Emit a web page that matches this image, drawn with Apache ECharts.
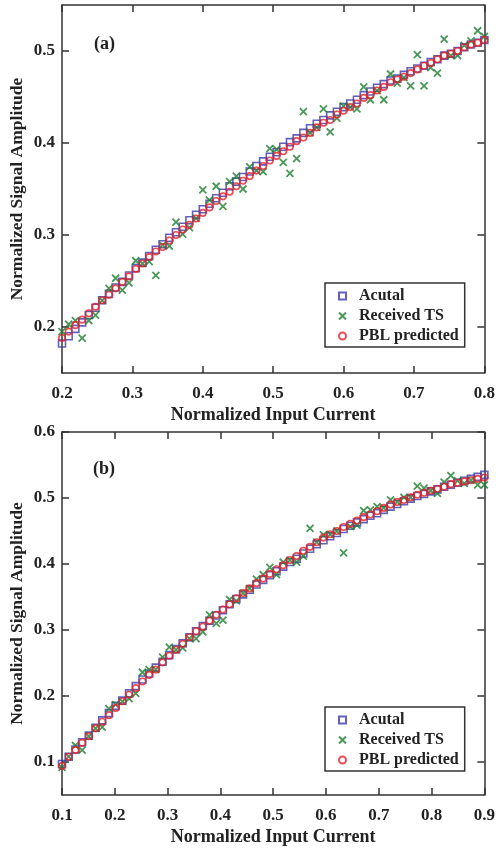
<!DOCTYPE html>
<html>
<head>
<meta charset="utf-8">
<script src="https://cdn.jsdelivr.net/npm/echarts@6/dist/echarts.min.js"></script>
<style>
  html, body { margin: 0; padding: 0; background: #fff; }
  #chart { width: 498px; height: 850px; }
</style>
</head>
<body>
<div id="chart"></div>
<script>
// ---- data, panel (a) ----
const inputA = [0.2000, 0.2095, 0.2190, 0.2286, 0.2381, 0.2476, 0.2571, 0.2667, 0.2762, 0.2857,
  0.2952, 0.3048, 0.3143, 0.3238, 0.3333, 0.3429, 0.3524, 0.3619, 0.3714, 0.3810,
  0.3905, 0.4000, 0.4095, 0.4190, 0.4286, 0.4381, 0.4476, 0.4571, 0.4667, 0.4762,
  0.4857, 0.4952, 0.5048, 0.5143, 0.5238, 0.5333, 0.5429, 0.5524, 0.5619, 0.5714,
  0.5810, 0.5905, 0.6000, 0.6095, 0.6190, 0.6286, 0.6381, 0.6476, 0.6571, 0.6667,
  0.6762, 0.6857, 0.6952, 0.7048, 0.7143, 0.7238, 0.7333, 0.7429, 0.7524, 0.7619,
  0.7714, 0.7810, 0.7905, 0.8000]
const actualA = [0.182, 0.190, 0.198, 0.205, 0.213, 0.221, 0.229, 0.236, 0.243, 0.249,
  0.256, 0.264, 0.270, 0.277, 0.284, 0.290, 0.297, 0.303, 0.309, 0.316,
  0.322, 0.328, 0.334, 0.340, 0.346, 0.353, 0.358, 0.363, 0.369, 0.375,
  0.380, 0.385, 0.390, 0.396, 0.401, 0.405, 0.411, 0.416, 0.421, 0.425,
  0.430, 0.434, 0.439, 0.443, 0.447, 0.452, 0.456, 0.460, 0.464, 0.468,
  0.470, 0.474, 0.478, 0.481, 0.484, 0.488, 0.491, 0.495, 0.497, 0.500,
  0.504, 0.507, 0.509, 0.512]
const receivedA = [0.195, 0.203, 0.207, 0.188, 0.207, 0.213, 0.229, 0.242, 0.253, 0.240,
  0.248, 0.272, 0.269, 0.271, 0.256, 0.289, 0.288, 0.314, 0.301, 0.308,
  0.318, 0.349, 0.338, 0.353, 0.331, 0.358, 0.364, 0.350, 0.374, 0.370,
  0.369, 0.394, 0.393, 0.379, 0.367, 0.383, 0.434, 0.411, 0.417, 0.437,
  0.412, 0.427, 0.440, 0.439, 0.437, 0.461, 0.447, 0.457, 0.447, 0.475,
  0.465, 0.471, 0.462, 0.496, 0.462, 0.482, 0.476, 0.513, 0.495, 0.495,
  0.506, 0.511, 0.522, 0.516]
const predictedA = [0.188, 0.195, 0.202, 0.208, 0.215, 0.222, 0.229, 0.235, 0.242, 0.249,
  0.255, 0.263, 0.269, 0.276, 0.282, 0.287, 0.294, 0.300, 0.306, 0.311,
  0.318, 0.324, 0.330, 0.337, 0.342, 0.347, 0.353, 0.359, 0.364, 0.370,
  0.375, 0.381, 0.386, 0.391, 0.396, 0.402, 0.406, 0.411, 0.417, 0.422,
  0.425, 0.431, 0.435, 0.439, 0.443, 0.449, 0.452, 0.457, 0.461, 0.466,
  0.469, 0.472, 0.476, 0.480, 0.484, 0.487, 0.491, 0.495, 0.497, 0.500,
  0.504, 0.507, 0.509, 0.512]

// ---- data, panel (b) ----
const inputB = [0.1000, 0.1127, 0.1254, 0.1381, 0.1508, 0.1635, 0.1762, 0.1889, 0.2016, 0.2143,
  0.2270, 0.2397, 0.2524, 0.2651, 0.2778, 0.2905, 0.3032, 0.3159, 0.3286, 0.3413,
  0.3540, 0.3667, 0.3794, 0.3921, 0.4048, 0.4175, 0.4302, 0.4429, 0.4556, 0.4683,
  0.4810, 0.4937, 0.5063, 0.5190, 0.5317, 0.5444, 0.5571, 0.5698, 0.5825, 0.5952,
  0.6079, 0.6206, 0.6333, 0.6460, 0.6587, 0.6714, 0.6841, 0.6968, 0.7095, 0.7222,
  0.7349, 0.7476, 0.7603, 0.7730, 0.7857, 0.7984, 0.8111, 0.8238, 0.8365, 0.8492,
  0.8619, 0.8746, 0.8873, 0.9000]
const actualB = [0.097, 0.108, 0.119, 0.130, 0.140, 0.152, 0.163, 0.174, 0.185, 0.193,
  0.204, 0.215, 0.225, 0.234, 0.243, 0.252, 0.262, 0.271, 0.280, 0.289,
  0.298, 0.306, 0.314, 0.322, 0.330, 0.339, 0.347, 0.354, 0.361, 0.369,
  0.376, 0.383, 0.389, 0.396, 0.403, 0.408, 0.416, 0.423, 0.430, 0.436,
  0.442, 0.447, 0.453, 0.458, 0.463, 0.468, 0.473, 0.477, 0.482, 0.487,
  0.491, 0.495, 0.499, 0.503, 0.506, 0.510, 0.513, 0.517, 0.520, 0.523,
  0.526, 0.529, 0.532, 0.535]
const receivedB = [0.092, 0.108, 0.125, 0.118, 0.139, 0.151, 0.153, 0.181, 0.187, 0.192,
  0.196, 0.204, 0.236, 0.240, 0.240, 0.259, 0.274, 0.270, 0.273, 0.287,
  0.287, 0.297, 0.323, 0.310, 0.315, 0.346, 0.344, 0.356, 0.363, 0.377,
  0.384, 0.395, 0.384, 0.403, 0.406, 0.403, 0.412, 0.454, 0.433, 0.444,
  0.445, 0.450, 0.417, 0.457, 0.459, 0.481, 0.482, 0.487, 0.485, 0.497,
  0.494, 0.501, 0.501, 0.518, 0.515, 0.511, 0.507, 0.524, 0.534, 0.526,
  0.522, 0.527, 0.520, 0.520]
const predictedB = [0.094, 0.108, 0.118, 0.129, 0.139, 0.151, 0.161, 0.171, 0.182, 0.192,
  0.202, 0.212, 0.222, 0.232, 0.240, 0.251, 0.261, 0.270, 0.279, 0.289,
  0.298, 0.305, 0.314, 0.323, 0.331, 0.339, 0.348, 0.356, 0.363, 0.371,
  0.378, 0.385, 0.392, 0.398, 0.406, 0.412, 0.420, 0.426, 0.433, 0.440,
  0.445, 0.450, 0.456, 0.461, 0.466, 0.471, 0.475, 0.480, 0.485, 0.490,
  0.494, 0.497, 0.501, 0.505, 0.508, 0.511, 0.514, 0.517, 0.521, 0.523,
  0.525, 0.527, 0.529, 0.531]

// tick labels
const xTicksA = [0.2, 0.3, 0.4, 0.5, 0.6, 0.7, 0.8]
const yTicksA = [0.2, 0.3, 0.4, 0.5]
const xTicksB = [0.1, 0.2, 0.3, 0.4, 0.5, 0.6, 0.7, 0.8, 0.9]
const yTicksB = [0.1, 0.2, 0.3, 0.4, 0.5, 0.6]

const seriesNames = ['Acutal', 'Received TS', 'PBL predicted']

const FONT = '"Liberation Serif", "Times New Roman", serif'
const AXIS_COLOR = '#333'
const TEXT_COLOR = '#222'

const pairs = (xs, ys) => xs.map((x, i) => [x, ys[i]])
const fmt = (v) => v.toFixed(1)

const labelStyle = { fontFamily: FONT, fontWeight: 'bold', fontSize: 16, color: TEXT_COLOR }

// bottom/left axes carry labels, top/right ones only mirror the ticks (box look)
function makeX (grid, min, max, ticks, withLabel) {
  return {
    type: 'value',
    gridIndex: grid,
    position: withLabel ? 'bottom' : 'top',
    min: min,
    max: max,
    name: withLabel ? 'Normalized Input Current' : '',
    nameLocation: 'middle',
    nameGap: 33,
    nameMoveOverlap: false,
    nameTextStyle: { ...labelStyle, fontSize: 18 },
    splitLine: { show: false },
    axisLine: { show: true, onZero: false, lineStyle: { color: AXIS_COLOR, width: 1.5 } },
    axisTick: { show: true, inside: true, length: 7, customValues: ticks, lineStyle: { color: AXIS_COLOR, width: 1.5 } },
    axisLabel: { show: withLabel, margin: 12, customValues: ticks, formatter: fmt, ...labelStyle, fontSize: 17 }
  }
}

function makeY (grid, min, max, ticks, withLabel) {
  return {
    type: 'value',
    gridIndex: grid,
    position: withLabel ? 'left' : 'right',
    min: min,
    max: max,
    name: withLabel ? 'Normalized Signal Amplitude' : '',
    nameLocation: 'middle',
    nameGap: 36,
    nameMoveOverlap: false,
    nameTextStyle: { ...labelStyle, fontSize: 17.5 },
    splitLine: { show: false },
    axisLine: { show: true, onZero: false, lineStyle: { color: AXIS_COLOR, width: 1.5 } },
    axisTick: { show: true, inside: true, length: 7, customValues: ticks, lineStyle: { color: AXIS_COLOR, width: 1.5 } },
    axisLabel: { show: withLabel, margin: 7, customValues: ticks, formatter: fmt, ...labelStyle, fontSize: 17 }
  }
}

function makeSeries (axisIdx, xs, actual, received, predicted) {
  return [{
    name: seriesNames[0],
    type: 'scatter',
    xAxisIndex: axisIdx,
    yAxisIndex: axisIdx,
    symbol: 'rect',
    symbolSize: 7,
    itemStyle: { color: 'rgba(0,0,0,0)', borderColor: '#3b3ba6', borderWidth: 1.6 },
    data: pairs(xs, actual),
    z: 2
  }, {
    name: seriesNames[1],
    type: 'scatter',
    xAxisIndex: axisIdx,
    yAxisIndex: axisIdx,
    symbol: 'path://M0,0L10,10M10,0L0,10',
    symbolSize: 7,
    itemStyle: { color: 'rgba(0,0,0,0)', borderColor: '#1e7d2f', borderWidth: 1.8 },
    data: pairs(xs, received),
    z: 3
  }, {
    name: seriesNames[2],
    type: 'scatter',
    xAxisIndex: axisIdx,
    yAxisIndex: axisIdx,
    symbol: 'circle',
    symbolSize: 6.5,
    itemStyle: { color: 'rgba(0,0,0,0)', borderColor: '#e5202a', borderWidth: 1.6 },
    data: pairs(xs, predicted),
    z: 4
  }]
}

function makeLegend (top) {
  return {
    data: seriesNames,
    orient: 'vertical',
    left: 325,
    top: top,
    width: 139,
    padding: [5, 6, 3, 13],
    itemGap: 4,
    itemWidth: 7,
    itemHeight: 7,
    selectedMode: false,
    borderColor: AXIS_COLOR,
    borderWidth: 1.5,
    backgroundColor: '#fff',
    textStyle: { ...labelStyle, padding: [0, 0, 0, 8] }
  }
}

const chart = echarts.init(document.getElementById('chart'))
chart.setOption({
  animation: false,
  backgroundColor: '#fff',
  title: [
    { text: '(a)', left: 94, top: 35, padding: 0, textStyle: { ...labelStyle, fontSize: 18 } },
    { text: '(b)', left: 93, top: 460, padding: 0, textStyle: { ...labelStyle, fontSize: 18 } }
  ],
  grid: [
    { left: 61, right: 10, top: 5, height: 368 },
    { left: 61, right: 10, top: 432, height: 363 }
  ],
  xAxis: [
    makeX(0, 0.2, 0.8, xTicksA, true),
    makeX(0, 0.2, 0.8, xTicksA, false),
    makeX(1, 0.1, 0.9, xTicksB, true),
    makeX(1, 0.1, 0.9, xTicksB, false)
  ],
  yAxis: [
    makeY(0, 0.15, 0.55, yTicksA, true),
    makeY(0, 0.15, 0.55, yTicksA, false),
    makeY(1, 0.05, 0.6, yTicksB, true),
    makeY(1, 0.05, 0.6, yTicksB, false)
  ],
  legend: [makeLegend(283), makeLegend(707)],
  series: [
    ...makeSeries(0, inputA, actualA, receivedA, predictedA),
    ...makeSeries(2, inputB, actualB, receivedB, predictedB)
  ]
})
</script>
</body>
</html>
